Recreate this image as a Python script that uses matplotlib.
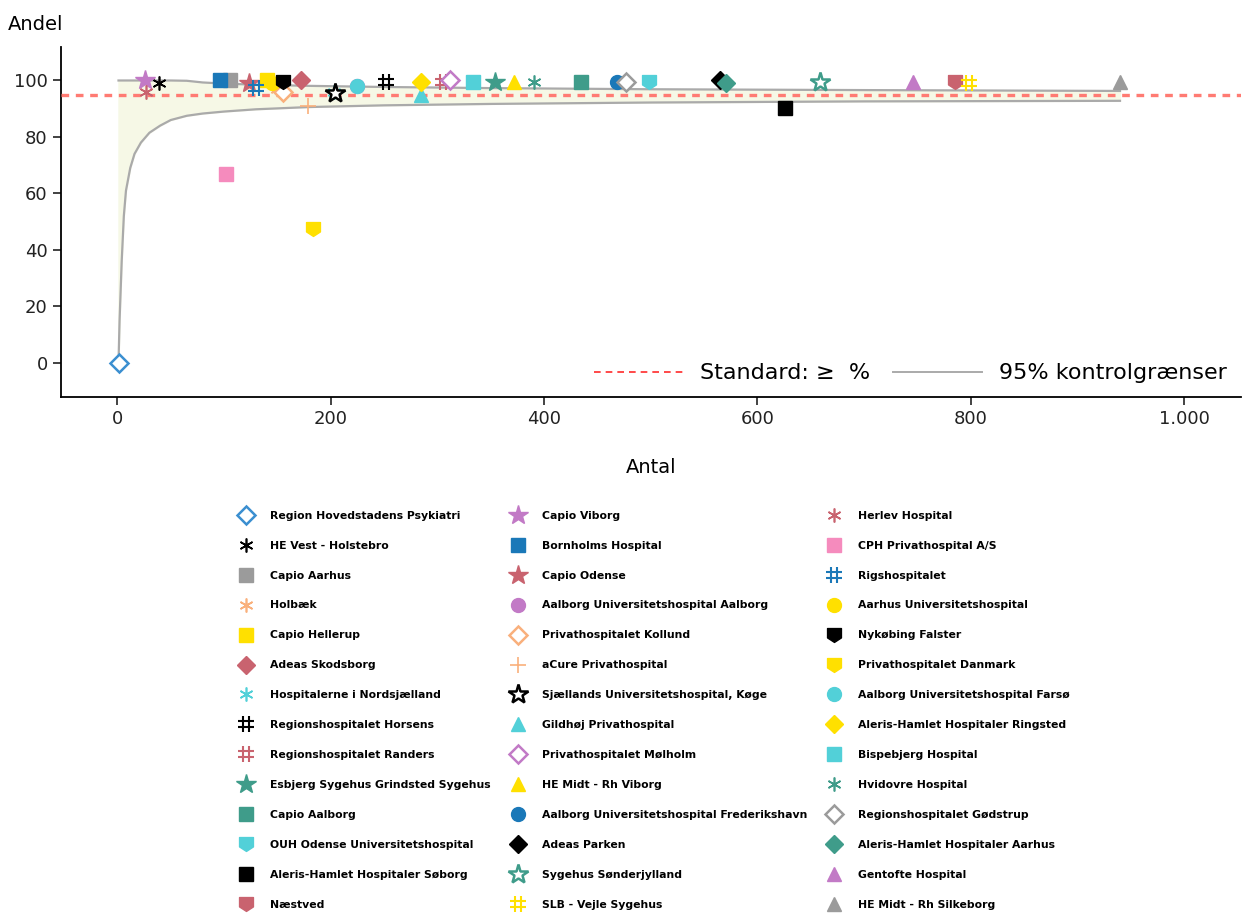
import numpy as np
import matplotlib
matplotlib.use('Agg')
import matplotlib.pyplot as plt
from matplotlib.lines import Line2D
from matplotlib.path import Path
from matplotlib.ticker import FuncFormatter

# data
hospitals = [
    'Region Hovedstadens Psykiatri', 'HE Vest - Holstebro', 'Capio Aarhus',
    'Holbæk', 'Capio Hellerup', 'Adeas Skodsborg',
    'Hospitalerne i Nordsjælland', 'Regionshospitalet Horsens',
    'Regionshospitalet Randers', 'Esbjerg Sygehus Grindsted Sygehus',
    'Capio Aalborg', 'OUH Odense Universitetshospital',
    'Aleris-Hamlet Hospitaler Søborg', 'Næstved',
    'Capio Viborg', 'Bornholms Hospital', 'Capio Odense',
    'Aalborg Universitetshospital Aalborg', 'Privathospitalet Kollund',
    'aCure Privathospital', 'Sjællands Universitetshospital, Køge',
    'Gildhøj Privathospital', 'Privathospitalet Mølholm',
    'HE Midt - Rh Viborg', 'Aalborg Universitetshospital Frederikshavn',
    'Adeas Parken', 'Sygehus Sønderjylland', 'SLB - Vejle Sygehus',
    'Herlev Hospital', 'CPH Privathospital A/S', 'Rigshospitalet',
    'Aarhus Universitetshospital', 'Nykøbing Falster',
    'Privathospitalet Danmark', 'Aalborg Universitetshospital Farsø',
    'Aleris-Hamlet Hospitaler Ringsted', 'Bispebjerg Hospital',
    'Hvidovre Hospital', 'Regionshospitalet Gødstrup',
    'Aleris-Hamlet Hospitaler Aarhus', 'Gentofte Hospital',
    'HE Midt - Rh Silkeborg',
]
antal = [1, 39, 106, 150, 140, 172, 203, 252, 305, 354, 435, 498, 626, 785,
         26, 96, 123, 225, 155, 179, 204, 285, 312, 372, 468, 565, 659, 798,
         27, 102, 130, 145, 155, 183, 225, 285, 333, 391, 477, 571, 746, 940]
andel = [0, 99, 100, 97, 100, 100, 96, 99.5, 99.5, 99.6, 99.4, 99.4, 90.2, 99.6,
         100, 100, 99, 98.2, 96, 91, 95.5, 95, 100, 99.4, 99.4, 100, 99.4, 99,
         96, 67, 97.3, 99, 99.5, 47.5, 98.2, 99.6, 99.4, 99.4, 99.4, 99, 99.4, 99.4]

# funnel limits
limit_n = [1, 2, 4, 6, 8, 12, 16, 22, 30, 40, 50, 65, 80, 100, 130, 180,
           250, 350, 500, 700, 940]
limit_lower = [0, 15, 36, 52, 61, 69, 74, 78, 81.5, 84, 86, 87.5, 88.3, 89.0,
               89.8, 90.6, 91.2, 91.7, 92.2, 92.6, 92.8]
limit_upper = [100, 100, 100, 100, 100, 100, 100, 100, 100, 100, 100, 99.9,
               99.3, 98.9, 98.5, 98.1, 97.7, 97.3, 96.9, 96.6, 96.3]
standard = 95

# styles (marker, colour, filled)
blue, black, grey, orange = '#3b8fd0', '#000000', '#9b9b9b', '#f9b07c'
yellow, red, cyan, teal = '#ffe000', '#c9636f', '#52d0d8', '#3f9c8a'
pink, purple, dblue = '#f58bbd', '#c27ac6', '#1a78b8'

shield = Path([(-1, 1), (1, 1), (1, -0.35), (0, -1), (-1, -0.35), (-1, 1)],
              [Path.MOVETO] + [Path.LINETO] * 4 + [Path.CLOSEPOLY])
hashm = Path([(-0.4, -1), (-0.4, 1), (0.4, -1), (0.4, 1),
              (-1, -0.4), (1, -0.4), (-1, 0.4), (1, 0.4)],
             [Path.MOVETO, Path.LINETO] * 4)
aster = (6, 2, 0)

styles = [
    ('D', blue, False), (aster, black, True), ('s', grey, True),
    (aster, orange, True), ('s', yellow, True), ('D', red, True),
    (aster, cyan, True), (hashm, black, True), (hashm, red, True),
    ('*', teal, True), ('s', teal, True), (shield, cyan, True),
    ('s', black, True), (shield, red, True),
    ('*', purple, True), ('s', dblue, True), ('*', red, True),
    ('o', purple, True), ('D', orange, False), ('+', orange, True),
    ('*', black, False), ('^', cyan, True), ('D', purple, False),
    ('^', yellow, True), ('o', dblue, True), ('D', black, True),
    ('*', teal, False), (hashm, yellow, True),
    (aster, red, True), ('s', pink, True), (hashm, dblue, True),
    ('o', yellow, True), (shield, black, True), (shield, yellow, True),
    ('o', cyan, True), ('D', yellow, True), ('s', cyan, True),
    (aster, teal, True), ('D', grey, False), ('D', teal, True),
    ('^', purple, True), ('^', grey, True),
]

size_map = {'D': 9, 's': 9.5, '*': 15, '^': 10, 'o': 10, '+': 11}


def marker_kw(m, c, filled):
    if m is hashm:
        ms = 12
    elif isinstance(m, Path) or m == aster:
        ms = 10
    else:
        ms = size_map[m]
    kw = dict(marker=m, markersize=ms, linestyle='none')
    if m is hashm:
        kw.update(color=c, markeredgewidth=1.5)
    elif m == '+' or m == aster:
        kw.update(color=c, markeredgewidth=1.2)
    elif filled:
        kw.update(markerfacecolor=c, markeredgecolor=c, markeredgewidth=1)
    else:
        kw.update(markerfacecolor='white', markeredgecolor=c,
                  markeredgewidth=1.8)
    return kw


fig = plt.figure(figsize=(12.43, 9.14), dpi=100)
ax = fig.add_axes([0.049, 0.566, 0.949, 0.383])

ax.fill_between(limit_n, limit_lower, limit_upper, color='#f6f8e6', zorder=1)
ax.plot(limit_n, limit_lower, color='#aaaaaa', lw=1.6, zorder=2)
ax.plot(limit_n, limit_upper, color='#aaaaaa', lw=1.6, zorder=2)
ax.axhline(standard, color='#ff7b73', lw=2.4, dashes=(2.3, 2.0), zorder=3)

handles = []
for name, x, y, (m, c, f) in zip(hospitals, antal, andel, styles):
    kw = marker_kw(m, c, f)
    ax.plot([x], [y], zorder=4, **kw)
    handles.append(Line2D([], [], label=name, **kw))

ax.set_xlim(-53, 1053)
ax.set_ylim(-12, 112)
ax.set_yticks([0, 20, 40, 60, 80, 100])
ax.set_xticks([0, 200, 400, 600, 800, 1000])
ax.xaxis.set_major_formatter(FuncFormatter(
    lambda v, p: f'{int(v):,}'.replace(',', '.')))
for s in ('top', 'right'):
    ax.spines[s].set_visible(False)
for s in ('left', 'bottom'):
    ax.spines[s].set_linewidth(1.3)
ax.tick_params(labelsize=13, length=6, width=1.2, colors='#222222')
ax.set_xlabel('Antal', fontsize=14, labelpad=22)
fig.text(0.006, 0.973, 'Andel', fontsize=14, ha='left', va='center')

std_h = Line2D([], [], color='#ff2a2a', lw=1.2, dashes=(4, 3))
lim_h = Line2D([], [], color='#aaaaaa', lw=1.4)
ax.legend([std_h, lim_h], ['Standard: \u2265  %', '95% kontrolgrænser'],
          loc='lower right', ncol=2, frameon=False, fontsize=16,
          handlelength=4.0, handletextpad=0.8, columnspacing=1.0,
          borderaxespad=0.2)

fig.legend(handles=handles, ncol=3, loc='upper left',
           bbox_to_anchor=(0.186, 0.446), frameon=False,
           prop=dict(size=7.8, weight='bold'), labelspacing=1.84,
           handletextpad=1.2, columnspacing=1.5, borderaxespad=0)

fig.savefig('out.png', dpi=100)
